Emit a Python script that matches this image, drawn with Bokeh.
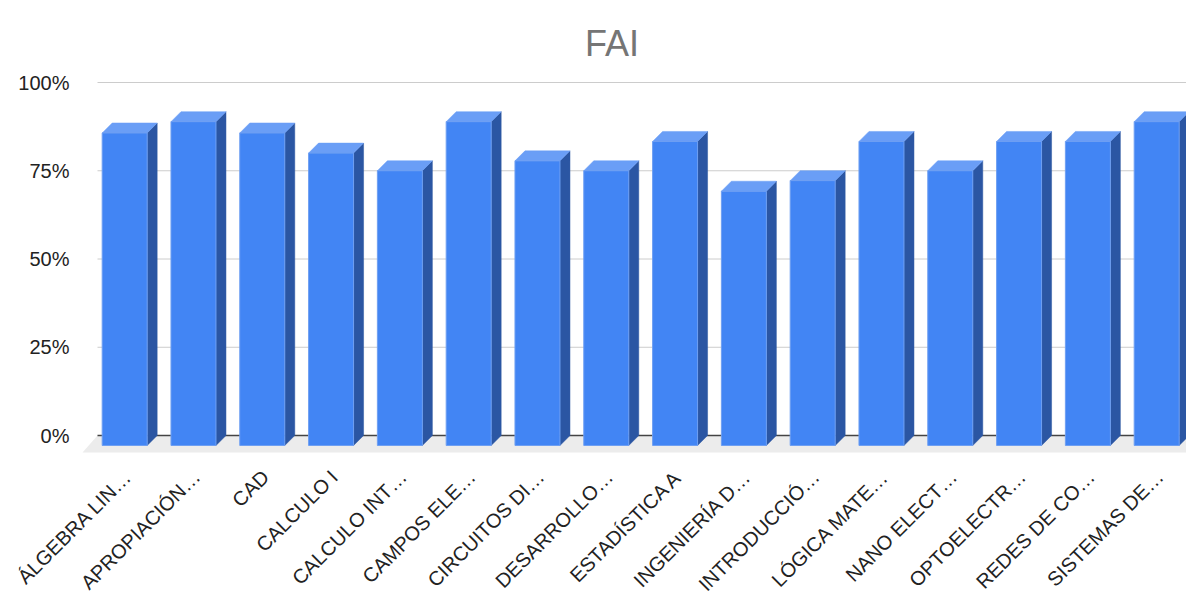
import math
from bokeh.plotting import figure
from bokeh.models import Range1d, FixedTicker, NumeralTickFormatter, Label
from bokeh.embed import file_html
from bokeh.resources import INLINE

# ---- data ----
title_text = "FAI"
categories = [
    "ÁLGEBRA LIN…", "APROPIACIÓN…", "CAD", "CALCULO I", "CALCULO INT…",
    "CAMPOS ELE…", "CIRCUITOS DI…", "DESARROLLO…", "ESTADÍSTICA A",
    "INGENIERÍA D…", "INTRODUCCIÓ…", "LÓGICA MATE…", "NANO ELECT…",
    "OPTOELECTR…", "REDES DE CO…", "SISTEMAS DE…",
]
values = [0.857, 0.889, 0.857, 0.800, 0.750, 0.889, 0.778, 0.750,
          0.833, 0.692, 0.722, 0.833, 0.750, 0.833, 0.833, 0.889]
y_ticks = [0.0, 0.25, 0.5, 0.75, 1.0]

# ---- geometry (pixels -> data units) ----
W, H = 1186, 594
X0_PX, Y0_PX = 97.0, 435.0   # pixel position of data origin
PX_X = 68.8      # pixels per category
PX_Y = 353.0     # pixels per 100 %
DX = 10.0 / PX_X  # 3D depth (x)
DY = 10.0 / PX_Y  # 3D depth (y)
FRONT_L, FRONT_R = 0.068, 0.722

FONT = "Liberation Sans"
FRONT_C, SIDE_C, TOP_C = "#4285F4", "#2B56A3", "#6A9EF6"

n = len(categories)
idx = list(range(n))

p = figure(width=W, height=H, output_backend="svg", toolbar_location=None,
           x_range=Range1d(-X0_PX / PX_X, (W - X0_PX) / PX_X),
           y_range=Range1d(-(H - Y0_PX) / PX_Y, Y0_PX / PX_Y),
           min_border_left=0, min_border_right=0, min_border_top=0,
           min_border_bottom=0, title=None)
p.outline_line_color = None
p.background_fill_color = "white"
p.border_fill_color = "white"
p.xgrid.visible = False
p.ygrid.visible = False

# floor
p.patch(x=[0, 17, 17, -15.0 / PX_X], y=[0, 0, -17.0 / PX_Y, -17.0 / PX_Y],
        fill_color="#ECECEC", line_color=None)

# gridlines
gl = [t for t in y_ticks if t > 0]
p.segment(x0=[0] * len(gl), y0=gl, x1=[17] * len(gl), y1=gl,
          line_color="#CCCCCC", line_width=1)
p.segment(x0=[0], y0=[0], x1=[17], y1=[0], line_color="#444444", line_width=1.5)

# bars (3D)
left = [i + FRONT_L for i in idx]
right = [i + FRONT_R for i in idx]
side_xs = [[r, r + DX, r + DX, r] for r in right]
side_ys = [[-DY, 0, v + DY, v] for v in values]
top_xs = [[l, l + DX, r + DX, r] for l, r in zip(left, right)]
top_ys = [[v, v + DY, v + DY, v] for v in values]
p.patches(xs=side_xs, ys=side_ys, fill_color=SIDE_C, line_color=SIDE_C, line_width=0.5)
p.patches(xs=top_xs, ys=top_ys, fill_color=TOP_C, line_color=TOP_C, line_width=0.5)
p.quad(left=left, right=right, bottom=[-DY] * n, top=values,
       fill_color=FRONT_C, line_color="#6E9FF2", line_width=1)

# y axis (drawn at the left end of the gridlines)
p.yaxis.fixed_location = 0
p.yaxis.ticker = FixedTicker(ticks=y_ticks)
p.yaxis.formatter = NumeralTickFormatter(format="0%")
p.yaxis.axis_line_color = None
p.yaxis.major_tick_line_color = None
p.yaxis.minor_tick_line_color = None
p.yaxis.major_tick_out = 0
p.yaxis.major_label_standoff = 28
p.yaxis.major_label_text_font = FONT
p.yaxis.major_label_text_font_size = "20px"
p.yaxis.major_label_text_color = "#222222"

# x axis (drawn below the floor)
tick_pos = [i + 0.442 for i in idx]
p.xaxis.fixed_location = -(457.0 - Y0_PX) / PX_Y
p.xaxis.ticker = FixedTicker(ticks=tick_pos)
p.xaxis.major_label_overrides = {t: c for t, c in zip(tick_pos, categories)}
p.xaxis.major_label_orientation = math.pi / 4
p.xaxis.axis_line_color = None
p.xaxis.major_tick_line_color = None
p.xaxis.minor_tick_line_color = None
p.xaxis.major_tick_out = 0
p.xaxis.major_label_standoff = 16
p.xaxis.major_label_text_font = FONT
p.xaxis.major_label_text_font_size = "20px"
p.xaxis.major_label_text_color = "#222222"

# title
p.add_layout(Label(x=(611.5 - X0_PX) / PX_X, y=(Y0_PX - 43.3) / PX_Y, text=title_text,
                   text_align="center", text_baseline="alphabetic",
                   text_font=FONT, text_font_size="36px", text_color="#757575"))

open("out.html", "w").write(file_html(p, INLINE))
